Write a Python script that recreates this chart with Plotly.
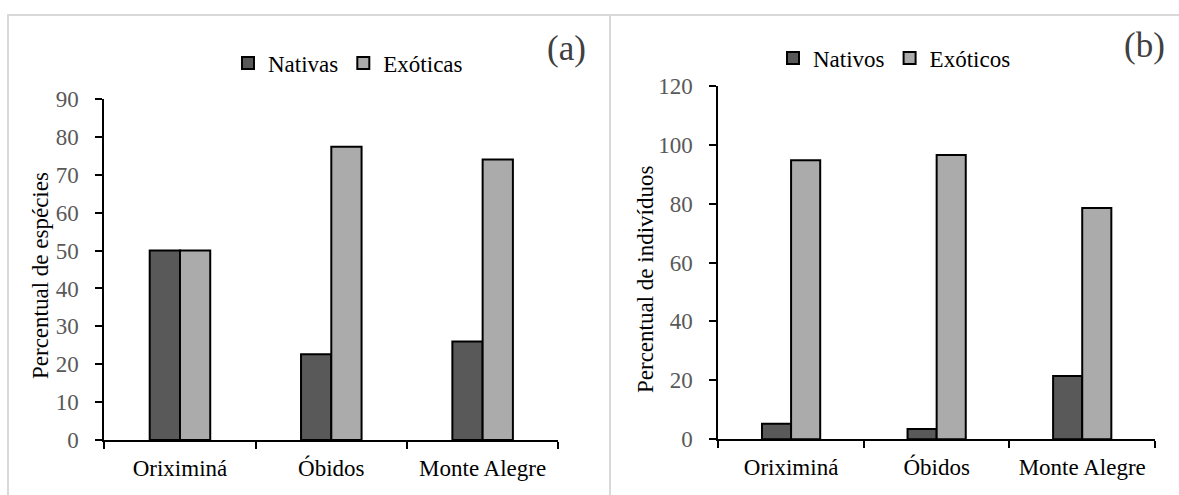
import plotly.graph_objects as go

W, H = 1179, 495

categories = ["Oriximiná", "Óbidos", "Monte Alegre"]

# Panel (a): percentual de espécies
especies_nativas = [50.0, 22.6, 26.0]
especies_exoticas = [50.0, 77.4, 74.0]

# Panel (b): percentual de indivíduos
individuos_nativos = [5.3, 3.5, 21.5]
individuos_exoticos = [94.7, 96.5, 78.5]

yticks_a = [0, 10, 20, 30, 40, 50, 60, 70, 80, 90]
yticks_b = [0, 20, 40, 60, 80, 100, 120]

DARK = "#595959"
LIGHT = "#ababab"
FONT = "Liberation Serif"

fig = go.Figure()
fig.add_trace(go.Bar(x=categories, y=especies_nativas, name="Nativas",
                     marker=dict(color=DARK, line=dict(color="black", width=2)),
                     xaxis="x", yaxis="y", legend="legend"))
fig.add_trace(go.Bar(x=categories, y=especies_exoticas, name="Exóticas",
                     marker=dict(color=LIGHT, line=dict(color="black", width=2)),
                     xaxis="x", yaxis="y", legend="legend"))
fig.add_trace(go.Bar(x=categories, y=individuos_nativos, name="Nativos",
                     marker=dict(color=DARK, line=dict(color="black", width=2)),
                     xaxis="x2", yaxis="y2", legend="legend2"))
fig.add_trace(go.Bar(x=categories, y=individuos_exoticos, name="Exóticos",
                     marker=dict(color=LIGHT, line=dict(color="black", width=2)),
                     xaxis="x2", yaxis="y2", legend="legend2"))

def px_x(v):
    return v / W

def px_y(v):
    return (H - v) / H

xcommon = dict(type="category", showline=True, linecolor="black", linewidth=2,
               ticks="outside", tickson="boundaries", ticklen=7, tickwidth=2,
               tickcolor="black", showgrid=False, zeroline=False, automargin=False,
               tickfont=dict(family=FONT, size=23, color="black"),
               ticklabelstandoff=6, fixedrange=True)
ycommon = dict(showline=True, linecolor="black", linewidth=2,
               ticks="outside", ticklen=7, tickwidth=2, tickcolor="black",
               showgrid=False, zeroline=False, automargin=False,
               tickfont=dict(family=FONT, size=23, color="#595959"),
               ticklabelstandoff=12, fixedrange=True)

fig.update_layout(
    template="none",
    width=W, height=H, autosize=False,
    margin=dict(l=0, r=0, t=0, b=0, pad=0),
    paper_bgcolor="white", plot_bgcolor="white",
    barmode="group", bargap=0.6, bargroupgap=0,
    font=dict(family=FONT, color="black"),
    xaxis=dict(domain=[px_x(104.3), px_x(558.3)], anchor="y", **xcommon),
    yaxis=dict(domain=[px_y(440), px_y(99)], anchor="x", range=[0, 90],
               tickvals=yticks_a, **ycommon),
    xaxis2=dict(domain=[px_x(718.3), px_x(1155)], anchor="y2", **xcommon),
    yaxis2=dict(domain=[px_y(439.3), px_y(85.7)], anchor="x2", range=[0, 120],
                tickvals=yticks_b, **ycommon),
    legend=dict(orientation="h", x=px_x(228), xanchor="left",
                y=px_y(63), yanchor="middle", bgcolor="rgba(0,0,0,0)",
                font=dict(family=FONT, size=23, color="black"),
                itemclick=False, itemdoubleclick=False),
    legend2=dict(orientation="h", x=px_x(773), xanchor="left",
                 y=px_y(58), yanchor="middle", bgcolor="rgba(0,0,0,0)",
                 font=dict(family=FONT, size=23, color="black"),
                 itemclick=False, itemdoubleclick=False),
    showlegend=True,
)

# panel borders
fig.add_shape(type="rect", xref="paper", yref="paper",
              x0=px_x(8), x1=px_x(610), y0=-0.05, y1=px_y(15),
              line=dict(color="#d9d9d9", width=2), fillcolor="rgba(0,0,0,0)",
              layer="below")
fig.add_shape(type="rect", xref="paper", yref="paper",
              x0=px_x(610), x1=1.05, y0=-0.05, y1=px_y(15),
              line=dict(color="#d9d9d9", width=2), fillcolor="rgba(0,0,0,0)",
              layer="below")

# panel letters
fig.add_annotation(text="(a)", xref="paper", yref="paper", x=px_x(566.5), y=px_y(49),
                   xanchor="center", yanchor="middle", showarrow=False,
                   font=dict(family=FONT, size=35, color="#404040"))
fig.add_annotation(text="(b)", xref="paper", yref="paper", x=px_x(1144.5), y=px_y(45),
                   xanchor="center", yanchor="middle", showarrow=False,
                   font=dict(family=FONT, size=35, color="#404040"))

# axis titles
fig.add_annotation(text="Percentual de espécies", xref="paper", yref="paper",
                   x=px_x(40), y=px_y(276), textangle=-90, showarrow=False,
                   xanchor="center", yanchor="middle",
                   font=dict(family=FONT, size=23, color="black"))
fig.add_annotation(text="Percentual de indivíduos", xref="paper", yref="paper",
                   x=px_x(645), y=px_y(279), textangle=-90, showarrow=False,
                   xanchor="center", yanchor="middle",
                   font=dict(family=FONT, size=23, color="black"))

fig.write_html("out.html")
